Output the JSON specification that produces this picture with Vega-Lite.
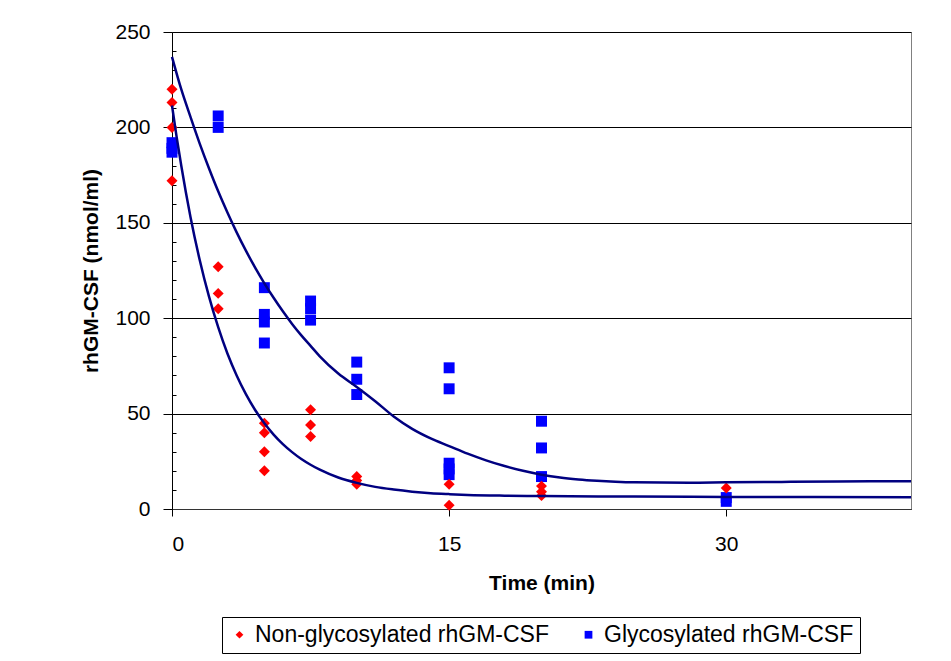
{
  "$schema": "https://vega.github.io/schema/vega-lite/v6.json",
  "width": 739,
  "height": 477,
  "autosize": {"type": "none"},
  "padding": {"left": 172, "top": 32, "right": 40, "bottom": 152},
  "background": "white",
  "config": {
    "view": {"stroke": "#808080", "strokeWidth": 1},
    "font": "Liberation Sans"
  },
  "datasets": {
    "pts": [
      {"series": "Glycosylated rhGM-CSF", "t": 0, "v": 192},
      {"series": "Glycosylated rhGM-CSF", "t": 0, "v": 189},
      {"series": "Glycosylated rhGM-CSF", "t": 0, "v": 187},
      {"series": "Glycosylated rhGM-CSF", "t": 2.5, "v": 206},
      {"series": "Glycosylated rhGM-CSF", "t": 2.5, "v": 200},
      {"series": "Glycosylated rhGM-CSF", "t": 5, "v": 116},
      {"series": "Glycosylated rhGM-CSF", "t": 5, "v": 102},
      {"series": "Glycosylated rhGM-CSF", "t": 5, "v": 98},
      {"series": "Glycosylated rhGM-CSF", "t": 5, "v": 87},
      {"series": "Glycosylated rhGM-CSF", "t": 7.5, "v": 109},
      {"series": "Glycosylated rhGM-CSF", "t": 7.5, "v": 105},
      {"series": "Glycosylated rhGM-CSF", "t": 7.5, "v": 99},
      {"series": "Glycosylated rhGM-CSF", "t": 10, "v": 77},
      {"series": "Glycosylated rhGM-CSF", "t": 10, "v": 68},
      {"series": "Glycosylated rhGM-CSF", "t": 10, "v": 60},
      {"series": "Glycosylated rhGM-CSF", "t": 15, "v": 74},
      {"series": "Glycosylated rhGM-CSF", "t": 15, "v": 63},
      {"series": "Glycosylated rhGM-CSF", "t": 15, "v": 24},
      {"series": "Glycosylated rhGM-CSF", "t": 15, "v": 21},
      {"series": "Glycosylated rhGM-CSF", "t": 15, "v": 18},
      {"series": "Glycosylated rhGM-CSF", "t": 20, "v": 46},
      {"series": "Glycosylated rhGM-CSF", "t": 20, "v": 32},
      {"series": "Glycosylated rhGM-CSF", "t": 20, "v": 17},
      {"series": "Glycosylated rhGM-CSF", "t": 30, "v": 6},
      {"series": "Glycosylated rhGM-CSF", "t": 30, "v": 4},
      {"series": "Non-glycosylated rhGM-CSF", "t": 0, "v": 220},
      {"series": "Non-glycosylated rhGM-CSF", "t": 0, "v": 213},
      {"series": "Non-glycosylated rhGM-CSF", "t": 0, "v": 200},
      {"series": "Non-glycosylated rhGM-CSF", "t": 0, "v": 172},
      {"series": "Non-glycosylated rhGM-CSF", "t": 2.5, "v": 127},
      {"series": "Non-glycosylated rhGM-CSF", "t": 2.5, "v": 113},
      {"series": "Non-glycosylated rhGM-CSF", "t": 2.5, "v": 105},
      {"series": "Non-glycosylated rhGM-CSF", "t": 5, "v": 45},
      {"series": "Non-glycosylated rhGM-CSF", "t": 5, "v": 40},
      {"series": "Non-glycosylated rhGM-CSF", "t": 5, "v": 30},
      {"series": "Non-glycosylated rhGM-CSF", "t": 5, "v": 20},
      {"series": "Non-glycosylated rhGM-CSF", "t": 7.5, "v": 52},
      {"series": "Non-glycosylated rhGM-CSF", "t": 7.5, "v": 44},
      {"series": "Non-glycosylated rhGM-CSF", "t": 7.5, "v": 38},
      {"series": "Non-glycosylated rhGM-CSF", "t": 10, "v": 17},
      {"series": "Non-glycosylated rhGM-CSF", "t": 10, "v": 15},
      {"series": "Non-glycosylated rhGM-CSF", "t": 10, "v": 13},
      {"series": "Non-glycosylated rhGM-CSF", "t": 15, "v": 13},
      {"series": "Non-glycosylated rhGM-CSF", "t": 15, "v": 2},
      {"series": "Non-glycosylated rhGM-CSF", "t": 20, "v": 12},
      {"series": "Non-glycosylated rhGM-CSF", "t": 20, "v": 9},
      {"series": "Non-glycosylated rhGM-CSF", "t": 20, "v": 7},
      {"series": "Non-glycosylated rhGM-CSF", "t": 30, "v": 11}
    ],
    "fit": [
      {"curve": "g", "t": 0, "v": 237},
      {"curve": "g", "t": 0.5, "v": 220},
      {"curve": "g", "t": 1, "v": 205.5},
      {"curve": "g", "t": 1.5, "v": 191.5},
      {"curve": "g", "t": 2, "v": 178.6},
      {"curve": "g", "t": 2.5, "v": 166.5},
      {"curve": "g", "t": 3, "v": 155.4},
      {"curve": "g", "t": 3.5, "v": 145},
      {"curve": "g", "t": 4, "v": 135.4},
      {"curve": "g", "t": 4.5, "v": 126.5},
      {"curve": "g", "t": 5, "v": 118.3},
      {"curve": "g", "t": 5.5, "v": 110.7},
      {"curve": "g", "t": 6, "v": 103.6},
      {"curve": "g", "t": 6.5, "v": 97},
      {"curve": "g", "t": 7, "v": 91},
      {"curve": "g", "t": 7.5, "v": 85.5},
      {"curve": "g", "t": 8, "v": 80},
      {"curve": "g", "t": 9, "v": 71},
      {"curve": "g", "t": 10, "v": 64},
      {"curve": "g", "t": 11, "v": 56.5},
      {"curve": "g", "t": 12, "v": 48.5},
      {"curve": "g", "t": 13, "v": 42},
      {"curve": "g", "t": 14, "v": 37},
      {"curve": "g", "t": 15, "v": 33},
      {"curve": "g", "t": 16, "v": 29},
      {"curve": "g", "t": 17, "v": 25.5},
      {"curve": "g", "t": 18, "v": 22.5},
      {"curve": "g", "t": 19, "v": 20},
      {"curve": "g", "t": 20, "v": 18},
      {"curve": "g", "t": 21, "v": 16.5},
      {"curve": "g", "t": 22, "v": 15.5},
      {"curve": "g", "t": 23, "v": 14.8},
      {"curve": "g", "t": 24, "v": 14.3},
      {"curve": "g", "t": 25, "v": 14},
      {"curve": "g", "t": 28, "v": 13.8},
      {"curve": "g", "t": 30, "v": 14},
      {"curve": "g", "t": 33, "v": 14.2},
      {"curve": "g", "t": 36, "v": 14.4},
      {"curve": "g", "t": 40, "v": 14.6},
      {"curve": "n", "t": 0, "v": 211.5},
      {"curve": "n", "t": 0.25, "v": 195},
      {"curve": "n", "t": 0.5, "v": 180},
      {"curve": "n", "t": 0.75, "v": 166},
      {"curve": "n", "t": 1, "v": 153},
      {"curve": "n", "t": 1.5, "v": 130.5},
      {"curve": "n", "t": 2, "v": 111.4},
      {"curve": "n", "t": 2.5, "v": 95.3},
      {"curve": "n", "t": 3, "v": 81.5},
      {"curve": "n", "t": 3.5, "v": 70},
      {"curve": "n", "t": 4, "v": 60.2},
      {"curve": "n", "t": 4.5, "v": 51.9},
      {"curve": "n", "t": 5, "v": 44.9},
      {"curve": "n", "t": 5.5, "v": 39},
      {"curve": "n", "t": 6, "v": 34},
      {"curve": "n", "t": 6.5, "v": 29.8},
      {"curve": "n", "t": 7, "v": 26.2},
      {"curve": "n", "t": 7.5, "v": 23.2},
      {"curve": "n", "t": 8, "v": 20.6},
      {"curve": "n", "t": 9, "v": 16.5},
      {"curve": "n", "t": 10, "v": 13.7},
      {"curve": "n", "t": 11, "v": 11.6},
      {"curve": "n", "t": 12, "v": 10.2},
      {"curve": "n", "t": 13, "v": 9.1},
      {"curve": "n", "t": 14, "v": 8.3},
      {"curve": "n", "t": 15, "v": 7.8},
      {"curve": "n", "t": 16, "v": 7.4},
      {"curve": "n", "t": 18, "v": 7},
      {"curve": "n", "t": 20, "v": 6.8},
      {"curve": "n", "t": 25, "v": 6.5},
      {"curve": "n", "t": 30, "v": 6.3},
      {"curve": "n", "t": 40, "v": 6.2}
    ]
  },
  "layer": [
    {
      "data": {"name": "pts"},
      "mark": {"type": "point", "filled": true, "opacity": 1, "size": 120, "strokeWidth": 0},
      "encoding": {
        "x": {
          "field": "t", "type": "quantitative",
          "scale": {"domain": [0, 40], "nice": false, "zero": false},
          "axis": {
            "values": [0, 15, 30], "grid": false, "tickSize": 7, "tickColor": "black",
            "domainColor": "#333333", "labelFontSize": 21, "labelColor": "black",
            "labelPadding": 17, "title": "Time (min)", "titleFontSize": 21,
            "titleFontWeight": "bold", "titleColor": "black", "titlePadding": 18
          }
        },
        "y": {
          "field": "v", "type": "quantitative",
          "scale": {"domain": [0, 250], "nice": false},
          "axis": {
            "orient": "left",
            "values": [0, 50, 100, 150, 200, 250],
            "grid": true, "gridColor": "black", "gridWidth": 1, "gridOpacity": 1,
            "tickSize": 9, "tickColor": "black", "domainColor": "black",
            "labelFontSize": 21, "labelColor": "black", "labelPadding": 13,
            "title": "rhGM-CSF (nmol/ml)", "titleFontSize": 21, "titleFontWeight": "bold",
            "titleColor": "black", "titlePadding": 13
          }
        },
        "color": {
          "field": "series", "type": "nominal",
          "scale": {"domain": ["Non-glycosylated rhGM-CSF", "Glycosylated rhGM-CSF"], "range": ["#ff0000", "#0000ff"]},
          "legend": {
            "orient": "none", "legendX": 50, "legendY": 585,
            "direction": "horizontal", "title": null,
            "labelFontSize": 23, "labelColor": "black", "labelLimit": 500,
            "strokeColor": "black", "padding": 6, "symbolSize": 60,
            "columnPadding": 28, "symbolStrokeWidth": 0
          }
        },
        "shape": {
          "field": "series", "type": "nominal",
          "scale": {"domain": ["Non-glycosylated rhGM-CSF", "Glycosylated rhGM-CSF"], "range": ["diamond", "square"]}
        }
      }
    },
    {
      "data": {"name": "fit"},
      "mark": {"type": "line", "color": "#000080", "strokeWidth": 2.5, "interpolate": "monotone"},
      "encoding": {
        "x": {"field": "t", "type": "quantitative"},
        "y": {
          "field": "v", "type": "quantitative",
          "axis": {
            "orient": "left",
            "values": [10, 20, 30, 40, 60, 70, 80, 90, 110, 120, 130, 140, 160, 170, 180, 190, 210, 220, 230, 240],
            "tickSize": -4, "tickColor": "black", "labels": false, "domain": false,
            "grid": false, "title": null
          }
        },
        "detail": {"field": "curve", "type": "nominal"}
      }
    }
  ],
  "resolve": {"axis": {"y": "independent"}}
}
